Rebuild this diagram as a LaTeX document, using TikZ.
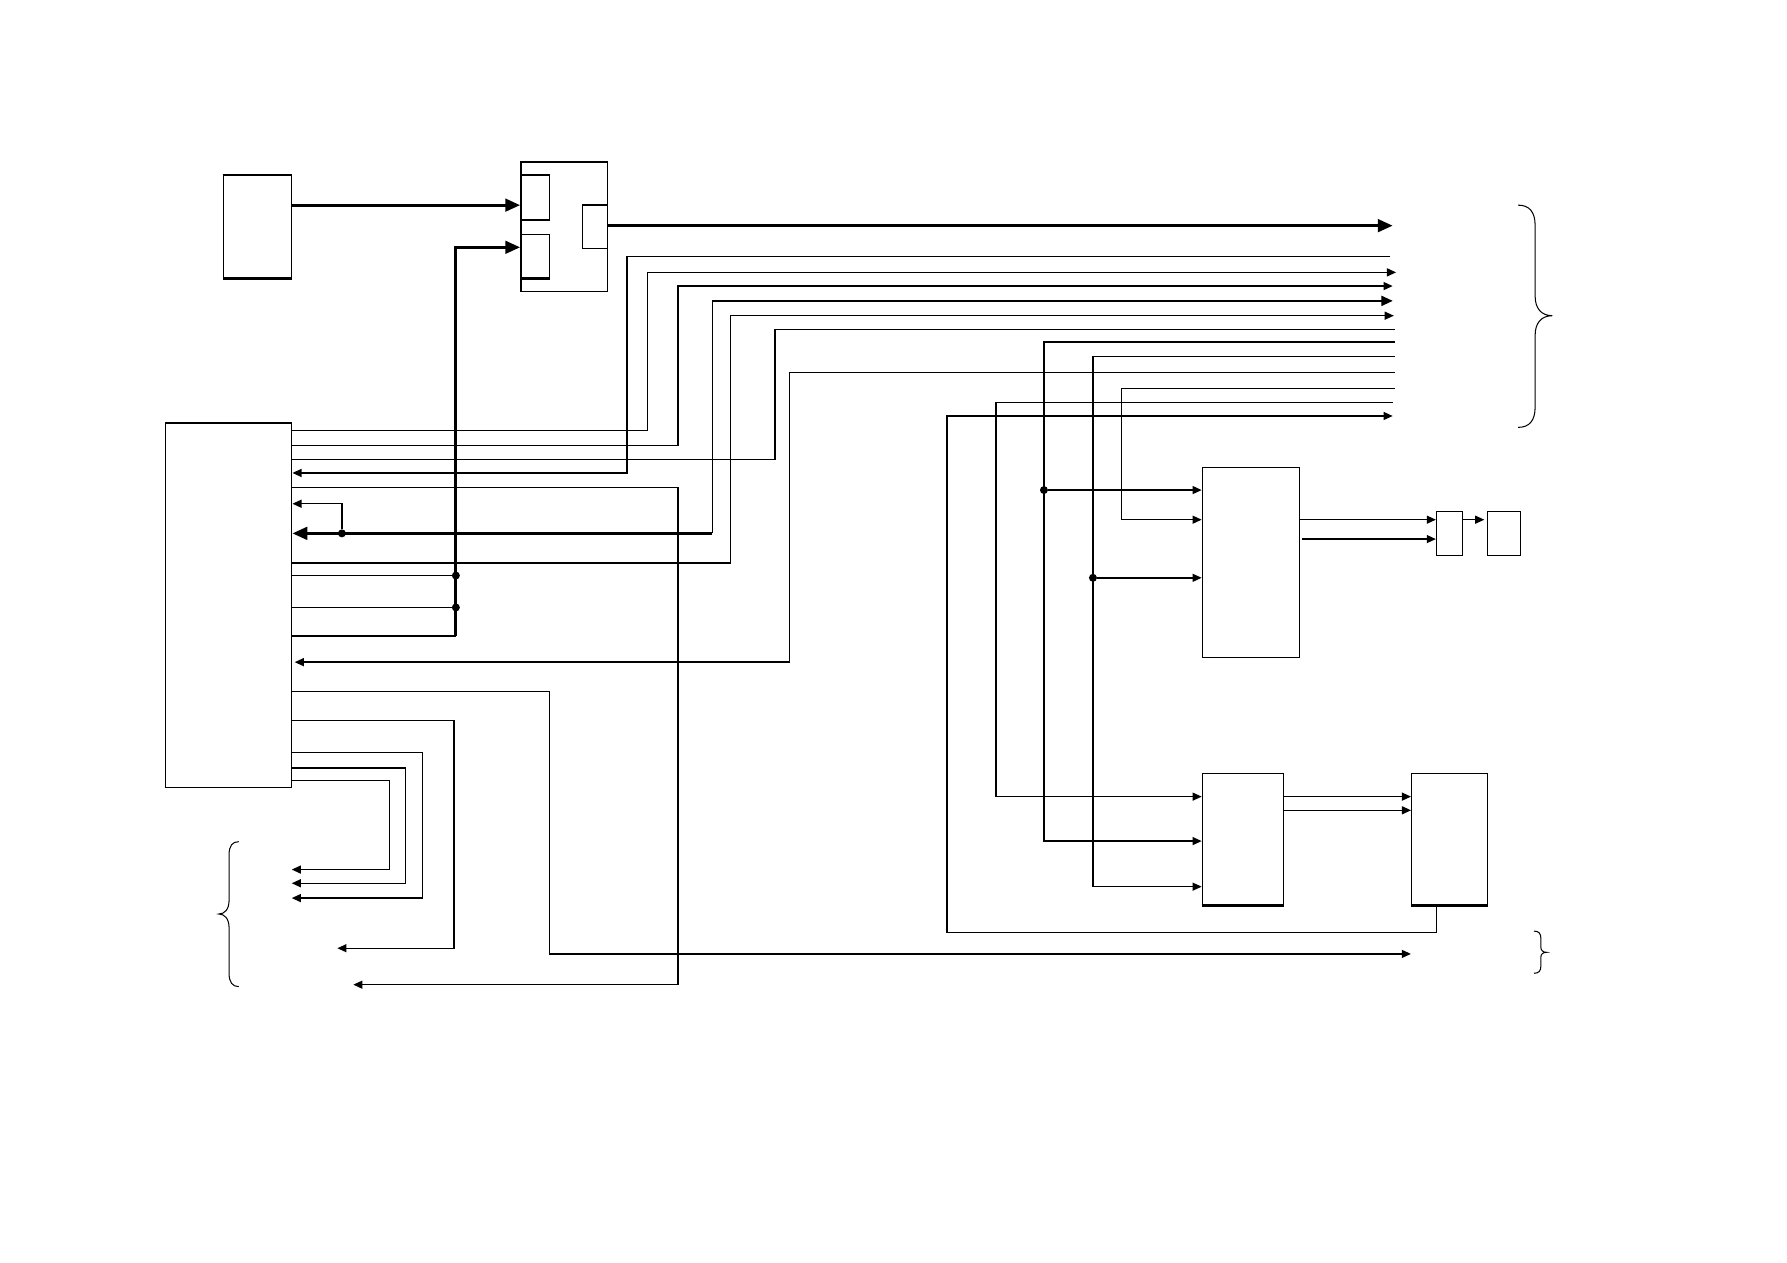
\documentclass[tikz,border=0pt]{standalone}
\usepackage{tikz}
\usetikzlibrary{arrows.meta}
\tikzstyle{box} = [draw, rectangle, line width=1.2pt, inner sep=0pt]
\tikzstyle{wire} = [line width=1.2pt]
\tikzstyle{bus} = [line width=2.6pt]
\tikzstyle{edge} = [line width=2.2pt]
\tikzstyle{arrow} = [wire, -{Triangle[length=8pt,width=7pt]}]
\tikzstyle{busarrow} = [bus, -{Triangle[length=13pt,width=11pt]}]
\tikzstyle{junction} = [circle, fill, inner sep=0pt, minimum size=7pt]
\tikzstyle{brace} = [line width=0.9pt]

\begin{document}
\begin{tikzpicture}[x=1pt,y=-1pt]
		\useasboundingbox (0,0) rectangle (1568,1108);
		% blocks
		\node[box, minimum width=60pt, minimum height=90pt] (src) at (226,199) {};
		\node[box, minimum width=76pt, minimum height=114pt] (mux) at (495,199) {};
		\node[box, minimum width=25pt, minimum height=39pt] (muxa) at (469.5,173.5) {};
		\node[box, minimum width=25pt, minimum height=38pt] (muxb) at (469.5,225) {};
		\node[box, minimum width=22pt, minimum height=38pt] (muxc) at (522,199) {};
		\node[box, minimum width=111pt, minimum height=320pt] (ctrl) at (200.5,531) {};
		\node[box, minimum width=85pt, minimum height=167pt] (conv) at (1097.5,493.5) {};
		\node[box, minimum width=23pt, minimum height=38.6pt] (drv) at (1272,468) {};
		\node[box, minimum width=29pt, minimum height=38.6pt] (load) at (1319.5,468) {};
		\node[box, minimum width=71pt, minimum height=115.5pt] (sela) at (1090.5,736.2) {};
		\node[box, minimum width=66.6pt, minimum height=115.5pt] (selb) at (1272,736.2) {};
		% heavy edges
		\draw[edge] (src.north west) -- (src.north east);
		\draw[edge] (src.south west) -- (src.south east);
		\draw[edge] (muxa.north west) -- (muxa.north east);
		\draw[edge] (muxb.south west) -- (muxb.south east);
		\draw[edge] (sela.south west) -- (sela.south east);
		\draw[edge] (selb.south west) -- (selb.south east);
		% free ends
		\coordinate (out0) at (1222,198);
		\coordinate (out1) at (1220,225);
		\coordinate (out2) at (1225,239);
		\coordinate (out3) at (1222,251);
		\coordinate (out4) at (1222,264);
		\coordinate (out5) at (1223,277);
		\coordinate (out6) at (1224,289);
		\coordinate (out7) at (1224,300);
		\coordinate (out8) at (1224,313);
		\coordinate (out9) at (1224,327);
		\coordinate (out10) at (1224,341);
		\coordinate (out11) at (1222,353);
		\coordinate (out12) at (1222,365);
		\coordinate (low1) at (256,763);
		\coordinate (low2) at (256,775);
		\coordinate (low3) at (256,788);
		\coordinate (low4) at (296,832);
		\coordinate (low5) at (310,864);
		\coordinate (low6) at (1238,837);
		% junctions
		\node[junction] (j1) at (300,468) {};
		\node[junction] (j2) at (400,505) {};
		\node[junction] (j3) at (400,533) {};
		\node[junction] (j4) at (916,430) {};
		\node[junction] (j5) at (959,507) {};
		% top bus
		\draw[busarrow] (src.east |- 0,180) -- (muxa.west |- 0,180);
		\draw[busarrow] (muxc.east |- 0,198) -- (out0);
		\draw[busarrow] (400,558) |- (muxb.west |- 0,217);
		\draw[wire] (ctrl.east |- 0,558) -- (400,558);
		\draw[wire] (ctrl.east |- 0,505) -- (j2);
		\draw[wire] (ctrl.east |- 0,533) -- (j3);
		% control lines to the right
		\draw[arrow] (out1) -| (550,415) -- (ctrl.east |- 0,415);
		\draw[arrow] (ctrl.east |- 0,378) -| (568,239) -- (out2);
		\draw[arrow] (ctrl.east |- 0,391) -| (595,251) -- (out3);
		\draw[wire, -{Triangle[length=10pt,width=9pt]}] (625,468) |- (out4);
		\draw[busarrow] (625,468) -- (ctrl.east |- 0,468);
		\draw[arrow] (j1) |- (ctrl.east |- 0,442);
		\draw[arrow] (ctrl.east |- 0,494) -| (641,277) -- (out5);
		\draw[wire] (ctrl.east |- 0,403) -| (680,289) -- (out6);
		\draw[arrow] (out9) -| (693,581) -- ([xshift=2pt]ctrl.east |- 0,581);
		\draw[arrow] (ctrl.east |- 0,428) -| (595,864) -- (low5);
		% converter and selectors
		\draw[arrow] (out7) -| (916,738) -- (sela.west |- 0,738);
		\draw[arrow] (j4) -- (conv.west |- j4);
		\draw[arrow] (out8) -| (959,778) -- (sela.west |- 0,778);
		\draw[arrow] (j5) -- (conv.west |- j5);
		\draw[arrow] (out10) -| (984,456) -- (conv.west |- 0,456);
		\draw[arrow] (out11) -| (874,699) -- (sela.west |- 0,699);
		\draw[arrow] (selb.south -| 1260.5,0) |- (831,818) |- (out12);
		\draw[arrow] (conv.east |- 0,456) -- (drv.west |- 0,456);
		\draw[arrow] ([xshift=2pt]conv.east |- 0,473) -- (drv.west |- 0,473);
		\draw[arrow] (drv.east |- 0,456) -- ([xshift=-2pt]load.west |- 0,456);
		\draw[arrow] (sela.east |- 0,699) -- (selb.west |- 0,699);
		\draw[arrow] (sela.east |- 0,711) -- (selb.west |- 0,711);
		% lower outputs
		\draw[arrow] (ctrl.east |- 0,607) -| (482,837) -- (low6);
		\draw[arrow] (ctrl.east |- 0,632) -| (398.5,832) -- (low4);
		\draw[arrow] (ctrl.east |- 0,660) -| (370.7,788) -- (low3);
		\draw[arrow] (ctrl.east |- 0,674) -| (355.6,775) -- (low2);
		\draw[arrow] (ctrl.east |- 0,685) -| (342,763) -- (low1);
		% braces
		\draw[brace] (1332,180) .. controls (1342,180) and (1347,186) .. (1347,198) -- (1347,260) .. controls (1347,270) and (1352,277) .. (1362,277) .. controls (1352,277) and (1347,284) .. (1347,294) -- (1347,357) .. controls (1347,369) and (1342,375) .. (1332,375);
		\draw[brace] (1346,817) .. controls (1350,817) and (1352,819) .. (1352,823) -- (1352,831) .. controls (1352,834) and (1354,835.6) .. (1357,835.6) .. controls (1354,835.6) and (1352,837) .. (1352,840) -- (1352,848) .. controls (1352,852) and (1350,854) .. (1346,854);
		\draw[brace] (209.5,738.5) .. controls (204,738.5) and (201,742) .. (201,750) -- (201,790) .. controls (201,798) and (197,802) .. (192,802) .. controls (197,802) and (201,806) .. (201,814) -- (201,854) .. controls (201,862) and (204,865.7) .. (209.5,865.7);
\end{tikzpicture}
\end{document}
